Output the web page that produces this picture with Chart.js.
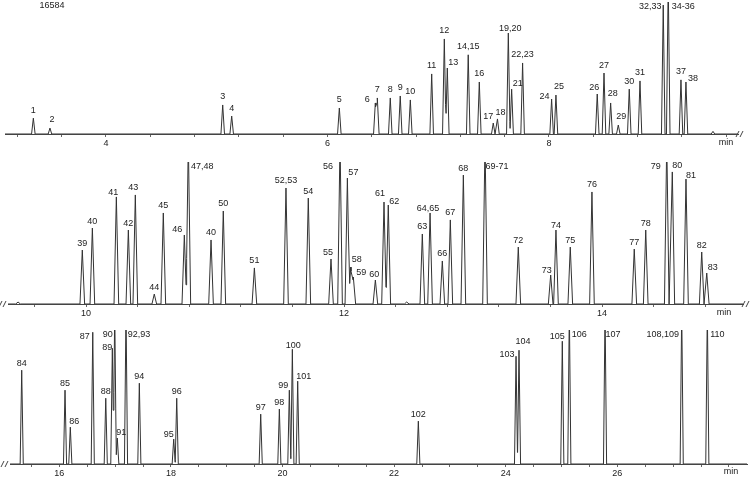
<!DOCTYPE html>
<html>
<head>
<meta charset="utf-8">
<script src="https://cdn.jsdelivr.net/npm/chart.js@4.4.1/dist/chart.umd.min.js"></script>
<style>
    body { margin: 0; background: #fff; width: 750px; height: 477px; overflow: hidden; position: relative; }
    .panel { position: absolute; left: 0; width: 750px; }
</style>
</head>
<body>
<div class="panel" style="top:0;height:156px"><canvas id="trace1"></canvas></div>
<div class="panel" style="top:158px;height:168px"><canvas id="trace2"></canvas></div>
<div class="panel" style="top:326px;height:151px"><canvas id="trace3"></canvas></div>
<script>
// Peak tables (retention time in min, height in % of panel)
const peakLabels1 = ['1', '2', '3', '4', '5', '6', '7', '8', '9', '10', '11', '12', '13', '14,15', '16', '17', '18',
    '19,20', '21', '22,23', '24', '25', '26', '27', '28', '29', '30', '31', '32,33', '34-36', '37', '38', ''];
const peakTimes1 = [3.344, 3.494, 5.054, 5.135, 6.107, 6.432, 6.450, 6.567, 6.657, 6.748, 6.941, 7.055, 7.082, 7.271, 7.371, 7.497, 7.535,
    7.633, 7.663, 7.762, 8.024, 8.063, 8.436, 8.497, 8.557, 8.626, 8.725, 8.822, 9.032, 9.077, 9.192, 9.237, 9.481];
const peakHeights1 = [12, 4.5, 22, 13.6, 19.7, 23.5, 27.3, 27.3, 28.8, 25.8, 45.5, 72, 50, 60, 39.4, 8.3, 11.4,
    76.5, 34, 53.8, 26.5, 29.5, 30.3, 46.2, 23.5, 6.8, 34, 40.2, 97.7, 115, 41, 39.4, 2];

const peakLabels2 = ['', '39', '40', '41', '42', '43', '44', '45', '46', '47,48', '40', '50', '51', '52,53', '54', '55', '56', '57',
    '58', '59', '60', '61', '62', '', '63', '64,65', '66', '67', '68', '69-71', '72', '73', '74', '75', '76', '77', '78',
    '79', '80', '81', '82', '83'];
const peakTimes2 = [9.473, 9.971, 10.049, 10.235, 10.328, 10.382, 10.529, 10.599, 10.762, 10.793, 10.969, 11.064, 11.305, 11.550,
    11.723, 11.899, 11.969, 12.026, 12.052, 12.072, 12.243, 12.310, 12.343, 12.486, 12.607, 12.667, 12.762, 12.824, 12.925,
    13.093, 13.351, 13.602, 13.643, 13.754, 13.922, 14.250, 14.339, 14.502, 14.545, 14.651, 14.773, 14.812];
const peakHeights2 = [1.4, 38, 53.5, 75.4, 52.1, 76.8, 7, 64.1, 48.6, 115, 45.1, 65.5, 25.4, 81.7,
    74.6, 31.7, 115, 88.7, 26, 19, 16.9, 71.8, 69.7, 1.4, 49.3, 64.1, 30.3, 59.2, 90.8,
    115, 40.1, 20.4, 52.1, 40.1, 78.9, 38.7, 52.1, 115, 93, 88, 36.6, 21.8];

const peakLabels3 = ['84', '85', '86', '87', '88', '89', '90', '91', '92,93', '94', '95', '96', '97', '98', '99', '100', '101',
    '102', '103', '104', '105', '106', '107', '108,109', '110'];
const peakTimes3 = [15.326, 16.102, 16.197, 16.599, 16.832, 16.950, 16.993, 17.039, 17.195, 17.434, 18.050, 18.104, 19.609,
    19.943, 20.122, 20.176, 20.272, 22.434, 24.185, 24.238, 25.014, 25.140, 25.780, 27.154, 27.613];
const peakHeights3 = [70, 55.1, 27.5, 98.3, 49.1, 86.4, 115, 19.4, 115, 60.3, 18.6, 49.1, 37.2,
    41, 55.1, 85.6, 61.8, 32, 80.4, 84.9, 91.6, 115, 115, 115, 115];

const axisLabels1 = [4, 6, 8];
const axisLabels2 = [10, 12, 14];
const axisLabels3 = [16, 18, 20, 22, 24, 26];

const FONT = '"Liberation Sans", Arial, sans-serif';

// label nudges in px [dx, dy] where a label sits beside its peak
const nudge1 = { '2': [2, -1], '6': [-8, 5], '13': [6, 3], '17': [-5, 1], '18': [3, 2], '19,20': [2, 3], '21': [6, 2],
    '24': [-7, 5], '25': [3, -1], '26': [-3, 2], '28': [2, -1], '29': [3, -1], '32,33': [-13, 0], '34-36': [15, 0], '38': [7, 5] };
const nudge2 = { '41': [-3, 3], '43': [-2, 0], '46': [-7, 2], '47,48': [14, 0], '55': [-3, 1], '56': [-12, 0], '57': [6, 1],
    '58': [6, -1], '59': [8, 2], '60': [-1, 2], '61': [-4, -2], '62': [6, 3], '64,65': [-2, 3], '69-71': [12, 0],
    '73': [-4, 2], '74': [0, 2], '79': [-11, 0], '80': [5, -1], '81': [5, 3], '83': [6, 1] };
const nudge3 = { '86': [4, 1], '87': [-8, 2], '89': [-5, 6], '90': [-7, 0], '91': [4, 2], '92,93': [13, 0], '95': [-5, 2],
    '99': [-6, 2], '100': [1, 3], '101': [6, 2], '103': [-9, 5], '104': [4, -2], '105': [-5, 2], '106': [10, 0],
    '107': [8, 0], '108,109': [-19, 0], '110': [10, 0] };

// turn a peak table into a trace: each peak a narrow triangle, overlapping peaks add up
function buildTrace(times, heights, halfW, xMin, xMax) {
    const xs = [xMin, xMax];
    times.forEach(t => { xs.push(t - halfW, t, t + halfW); });
    xs.sort((a, b) => a - b);
    return xs.map(x => {
        let y = 0;
        times.forEach((t, i) => {
            const d = Math.abs(x - t);
            if (d < halfW) y += heights[i] * (1 - d / halfW);
        });
        return { x: x, y: y };
    });
}

const peakLabelPlugin = {
    id: 'peakLabels',
    afterDatasetsDraw(chart, args, opts) {
        const ctx = chart.ctx;
        const area = chart.chartArea;
        const xs = chart.scales.x;
        const ys = chart.scales.y;
        ctx.save();
        ctx.font = '9px ' + FONT;
        ctx.fillStyle = '#222';
        ctx.textAlign = 'center';
        ctx.textBaseline = 'middle';
        opts.labels.forEach((lab, i) => {
            if (!lab) return;
            const px = xs.getPixelForValue(opts.times[i]);
            // labels of peaks running off the top sit along the top edge
            const py = Math.max(area.top + 5, ys.getPixelForValue(Math.min(opts.heights[i], 100)) + opts.gap);
            const n = opts.nudge[lab] || [0, 0];
            ctx.fillText(lab, px + n[0], py + n[1]);
        });
        ctx.fillText('min', opts.minPos[0], opts.minPos[1]);
        if (opts.title) ctx.fillText(opts.title, 52, 6);

        // axis break marks
        ctx.strokeStyle = '#444';
        ctx.lineWidth = 1;
        opts.breaks.forEach(bx => {
            const by = area.bottom;
            ctx.beginPath();
            ctx.moveTo(bx - 3, by + 3); ctx.lineTo(bx, by - 3);
            ctx.moveTo(bx + 1, by + 3); ctx.lineTo(bx + 4, by - 3);
            ctx.stroke();
        });
        ctx.restore();
    }
};

function makePanel(id, cfg) {
    const points = buildTrace(cfg.times, cfg.heights, cfg.halfW, cfg.min, cfg.max);
    return new Chart(document.getElementById(id).getContext('2d'), {
        type: 'line',
        data: {
            datasets: [{
                data: points,
                borderColor: '#333',
                borderWidth: 1,
                pointRadius: 0,
                tension: 0,
                fill: false,
                clip: 0
            }]
        },
        options: {
            responsive: true,
            maintainAspectRatio: false,
            animation: false,
            events: [],
            layout: { padding: cfg.padding },
            plugins: {
                legend: { display: false },
                tooltip: { enabled: false },
                peakLabels: {
                    labels: cfg.labels,
                    times: cfg.times,
                    heights: cfg.heights,
                    nudge: cfg.nudge,
                    gap: cfg.gap,
                    minPos: cfg.minPos,
                    breaks: cfg.breaks,
                    title: cfg.title || ''
                }
            },
            scales: {
                x: {
                    type: 'linear',
                    min: cfg.min,
                    max: cfg.max,
                    border: { color: '#444', width: 1 },
                    grid: { drawOnChartArea: false, tickLength: 3, color: '#666' },
                    ticks: {
                        stepSize: cfg.step,
                        includeBounds: false,
                        autoSkip: false,
                        maxRotation: 0,
                        padding: 1,
                        color: '#222',
                        font: { size: 9, family: FONT },
                        callback: v => {
                            const a = cfg.axisLabels.find(a => Math.abs(a - v) < 1e-6);
                            return a === undefined ? '' : String(a);
                        }
                    },
                    afterFit: s => { s.height = cfg.axisH; }
                },
                y: { display: false, min: 0, max: 100 }
            }
        },
        plugins: [peakLabelPlugin]
    });
}

makePanel('trace1', {
    labels: peakLabels1, times: peakTimes1, heights: peakHeights1, axisLabels: axisLabels1,
    min: 3.088, max: 9.707, step: 0.4, halfW: 0.016, gap: -8,
    padding: { top: 2, left: 5, right: 12, bottom: 0 }, axisH: 22,
    nudge: nudge1, minPos: [726, 143], breaks: [739], title: '16584'
});

makePanel('trace2', {
    labels: peakLabels2, times: peakTimes2, heights: peakHeights2, axisLabels: axisLabels2,
    min: 9.395, max: 15.093, step: 0.4, halfW: 0.018, gap: -7,
    padding: { top: 4, left: 8, right: 7, bottom: 0 }, axisH: 22,
    nudge: nudge2, minPos: [724, 155], breaks: [2, 745]
});

makePanel('trace3', {
    labels: peakLabels3, times: peakTimes3, heights: peakHeights3, axisLabels: axisLabels3,
    min: 15.116, max: 28.324, step: 0.5, halfW: 0.028, gap: -7,
    padding: { top: 4, left: 10, right: 3, bottom: 0 }, axisH: 13,
    nudge: nudge3, minPos: [731, 146], breaks: [4]
});
</script>
</body>
</html>
